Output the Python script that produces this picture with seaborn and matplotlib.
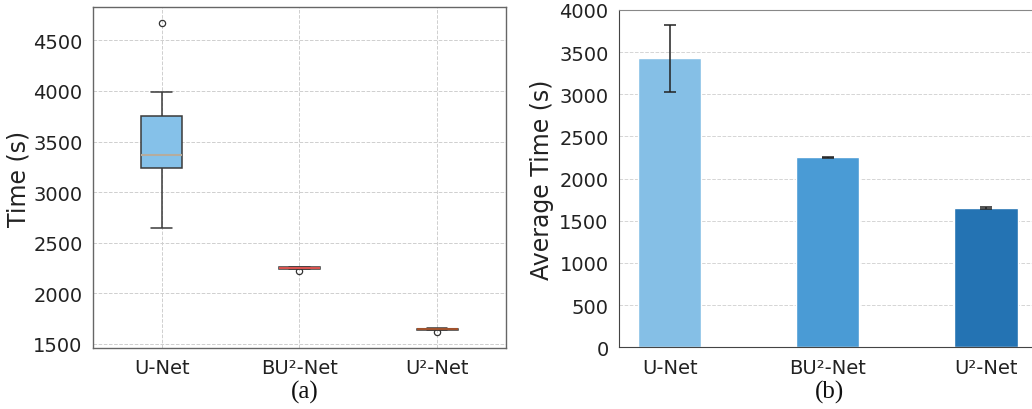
import numpy as np
import pandas as pd
import matplotlib
matplotlib.use("Agg")
import matplotlib.pyplot as plt
import seaborn as sns

# ---------------- data ----------------
models = ["U-Net", "BU²-Net", "U²-Net"]

# per-run training times (s) for the box plot (a)
unet_times = [2645, 2950, 3238, 3300, 3372, 3480, 3752, 3990, 4675]
bu2net_times = [2222, 2240, 2245, 2248, 2250, 2252, 2256, 2260, 2262]
u2net_times = [1618, 1636, 1640, 1643, 1645, 1648, 1652, 1655, 1658]

# average times and standard deviations for the bar chart (b)
avg_times = [3425, 2255, 1648]
std_times = [400, 7, 12]

box_colors = ["#85C1E9", "#EC8C80", "#C9A27E"]
median_colors = ["#B5AC9E", "#D9534F", "#A0522D"]
bar_colors = ["#85BFE6", "#4A9BD5", "#2473B3"]

yticks_a = [1500, 2000, 2500, 3000, 3500, 4000, 4500]
yticks_b = [0, 500, 1000, 1500, 2000, 2500, 3000, 3500, 4000]

# ---------------- style ----------------
sns.set_style("white")
plt.rcParams["font.family"] = ["DejaVu Sans"]
plt.rcParams["axes.edgecolor"] = "#555555"

fig = plt.figure(figsize=(10.32, 4.10), dpi=100)
ax1 = fig.add_axes([0.0901, 0.1488, 0.4002, 0.8317])
ax2 = fig.add_axes([0.5998, 0.1505, 0.4047, 0.8227])

# ---------------- (a) box plot ----------------
groups = [unet_times, bu2net_times, u2net_times]
df_box = pd.DataFrame({
    "model": [m for m, g in zip(models, groups) for _ in g],
    "time": [v for g in groups for v in g],
})
sns.boxplot(data=df_box, x="model", y="time", hue="model", palette=box_colors,
            order=models, hue_order=models, width=0.3, saturation=1, legend=False,
            linecolor="#3a3a3a", linewidth=1.1, fliersize=4.5, ax=ax1,
            medianprops=dict(color="#B5AC9E", linewidth=1.5),
            flierprops=dict(marker="o", markerfacecolor="none", markeredgecolor="#333333", markeredgewidth=0.9),
            whis=1.5)
# colour the median line of each box
medians = [float(np.median(g)) for g in groups]
for line in ax1.lines:
    yd = np.asarray(line.get_ydata(), dtype=float)
    xd = np.asarray(line.get_xdata(), dtype=float)
    if len(yd) == 2 and yd[0] == yd[1]:
        xc = int(round(xd.mean()))
        if 0 <= xc < 3 and abs(yd[0] - medians[xc]) < 1e-6 and abs(xd[1] - xd[0]) > 0.2:
            line.set_color(median_colors[xc])
ax1.set_xlim(-0.5, 2.5)
ax1.set_ylim(1460, 4830)
ax1.set_yticks(yticks_a)
ax1.set_xlabel("")
ax1.set_ylabel("Time (s)", fontsize=17, color="#222222", labelpad=2)
ax1.grid(True, linestyle="--", color="#cfcfcf", linewidth=0.7)
ax1.set_axisbelow(True)
ax1.tick_params(axis="both", labelsize=14, colors="#222222", length=4, width=0.9, direction="out")
for s in ax1.spines.values():
    s.set_color("#666666")
    s.set_linewidth(1.0)

# ---------------- (b) bar chart ----------------
df_bar = pd.DataFrame({"model": models, "avg": avg_times})
sns.barplot(data=df_bar, x="model", y="avg", hue="model", palette=bar_colors,
            order=models, hue_order=models, width=0.4, saturation=1, legend=False,
            errorbar=None, ax=ax2)
ax2.errorbar(np.arange(len(models)), avg_times, yerr=std_times, fmt="none",
             ecolor="#222222", elinewidth=1.1, capsize=4, capthick=1.1)
ax2.set_xlim(-0.32, 2.32)
ax2.set_ylim(0, 4000)
ax2.set_yticks(yticks_b)
ax2.set_xlabel("")
ax2.set_ylabel("Average Time (s)", fontsize=17, color="#222222", labelpad=4)
ax2.yaxis.grid(True, linestyle="--", color="#d5d5d5", linewidth=0.7)
ax2.xaxis.grid(False)
ax2.set_axisbelow(True)
ax2.tick_params(axis="both", labelsize=14, colors="#222222", length=4, width=0.9, direction="out")
ax2.spines["left"].set_color("#444444")
ax2.spines["bottom"].set_color("#444444")
ax2.spines["top"].set_color("#888888")
ax2.spines["right"].set_visible(False)

# ---------------- captions ----------------
fig.text(305 / 1032, 1 - 392 / 410, "(a)", ha="center", va="center",
         fontsize=18, family="Liberation Serif", color="#111111")
fig.text(830 / 1032, 1 - 392 / 410, "(b)", ha="center", va="center",
         fontsize=18, family="Liberation Serif", color="#111111")

fig.savefig("out.png", dpi=100)
